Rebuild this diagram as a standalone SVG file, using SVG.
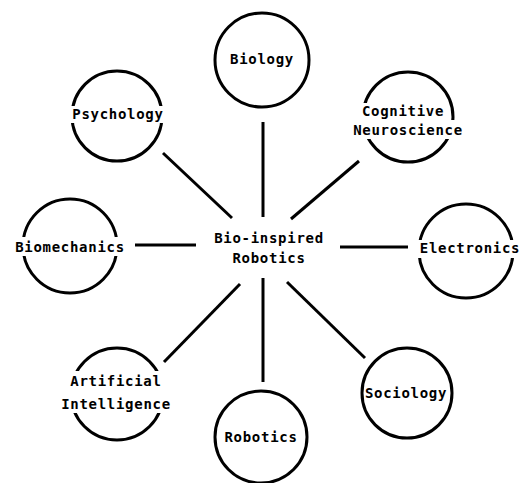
<svg xmlns="http://www.w3.org/2000/svg" width="521" height="483" viewBox="0 0 521 483">
<style>
.c{fill:#fff;stroke:#000;stroke-width:3}
.bg{fill:#fff}
.t{font-family:"DejaVu Sans Mono","Liberation Mono",monospace;font-weight:bold;font-size:14px;letter-spacing:0.7px;text-anchor:middle;fill:#000}
.e{stroke:#000;stroke-width:3;fill:none}
</style>
<rect width="521" height="483" fill="#fff"/>
<g id="connectors">
<line class="e" x1="263" y1="122" x2="263" y2="217"/>
<line class="e" x1="163" y1="153" x2="232" y2="218"/>
<line class="e" x1="359" y1="161" x2="291" y2="219"/>
<line class="e" x1="135" y1="245" x2="196" y2="245"/>
<line class="e" x1="340" y1="247" x2="408" y2="247"/>
<line class="e" x1="164" y1="362" x2="240" y2="284"/>
<line class="e" x1="287" y1="282" x2="365" y2="358"/>
<line class="e" x1="263" y1="278" x2="263" y2="382"/>
</g>
<g id="center">
<text class="t" x="269" y="243">Bio-inspired</text>
<text class="t" x="269" y="263">Robotics</text>
</g>
<g id="biology">
<circle class="c" cx="262" cy="60" r="47"/>
<text class="t" x="262" y="64">Biology</text>
</g>
<g id="psychology">
<circle class="c" cx="117" cy="116" r="45"/>
<rect class="bg" x="70" y="106" width="96" height="17"/>
<text class="t" x="118" y="119">Psychology</text>
</g>
<g id="cognitive">
<circle class="c" cx="408" cy="117" r="45"/>
<rect class="bg" x="360" y="103" width="86" height="17"/>
<rect class="bg" x="351" y="120" width="114" height="19"/>
<text class="t" x="403" y="116">Cognitive</text>
<text class="t" x="408" y="135">Neuroscience</text>
</g>
<g id="biomechanics">
<circle class="c" cx="70" cy="246" r="47"/>
<rect class="bg" x="12" y="237" width="116" height="19"/>
<text class="t" x="70" y="252">Biomechanics</text>
</g>
<g id="electronics">
<circle class="c" cx="466" cy="251" r="47"/>
<rect class="bg" x="417" y="240" width="104" height="18"/>
<text class="t" x="470" y="253">Electronics</text>
</g>
<g id="ai">
<circle class="c" cx="117" cy="394" r="46"/>
<rect class="bg" x="66" y="371" width="101" height="24"/>
<rect class="bg" x="60" y="394" width="112" height="19"/>
<text class="t" x="116" y="386">Artificial</text>
<text class="t" x="116" y="409">Intelligence</text>
</g>
<g id="sociology">
<circle class="c" cx="407" cy="393" r="45"/>
<text class="t" x="406" y="398">Sociology</text>
</g>
<g id="robotics">
<circle class="c" cx="261" cy="437" r="46"/>
<text class="t" x="261" y="442">Robotics</text>
</g>
</svg>
